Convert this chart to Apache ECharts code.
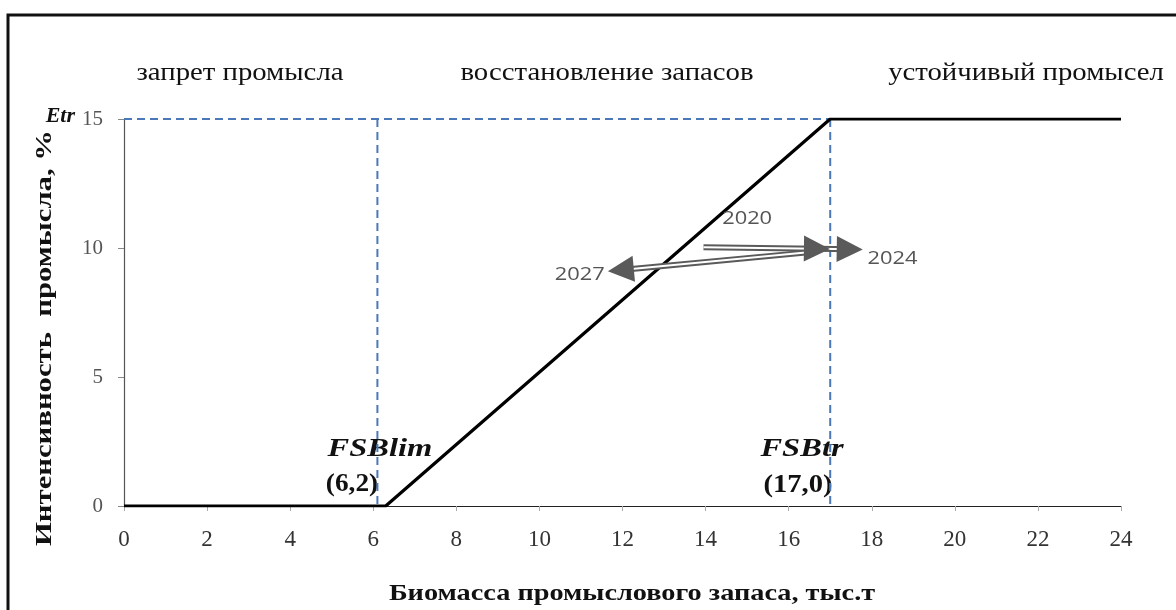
<!DOCTYPE html>
<html><head><meta charset="utf-8">
<script src="https://cdn.jsdelivr.net/npm/echarts@6/dist/echarts.min.js"></script>
<style>html,body{margin:0;padding:0;background:#fff}#c{width:1176px;height:610px}</style>
</head><body><div id="c"></div>
<script>
// ---- data ----
const xTickLabels = ['0','2','4','6','8','10','12','14','16','18','20','22','24'];
const yTickLabels = ['0','5','10','15'];
const zoneLabels = ['запрет промысла','восстановление запасов','устойчивый промысел'];
const ruleX = [0, 6.3, 17, 24];
const ruleY = [0, 0, 15, 15];
const etrLineX = [0, 17.5]; const etrY = 15;
const fsbLim = 6.1; const fsbTr = 17;
const refNames = ['FSBlim','FSBtr'];
const refValues = ['(6,2)','(17,0)'];
// trajectory segments (start x, start y, end x, end y)
const trajStartX = [13.95, 16.7, 16.6];
const trajStartY = [10.03, 9.97, 9.85];
const trajEndX   = [16.68, 17.47, 11.96];
const trajEndY   = [9.97, 9.95, 9.15];
const yearNames = ['2020','2024','2027'];
const yearX = [15.0, 18.5, 10.97];
const yearY = [11.15, 9.6, 8.95];

const chart = echarts.init(document.getElementById('c'));
const segs = trajStartX.map((x,i)=>({coords:[[x,trajStartY[i]],[trajEndX[i],trajEndY[i]]]}));
const serif = '"Liberation Serif", "DejaVu Serif", serif';
const dash = {color:'#4a78b8', width:2, type:[8,5]};
chart.setOption({
  animation:false,
  grid:{left:124, right:55, top:119, bottom:104},
  xAxis:{type:'value', min:0, max:24, interval:2,
    axisLine:{lineStyle:{color:'#222', width:1.2}},
    axisTick:{show:true, length:5, lineStyle:{color:'#aaa'}},
    splitLine:{show:false},
    axisLabel:{color:'#333', fontFamily:serif, fontSize:23, margin:22,
      formatter:(v)=>xTickLabels[v/2]}},
  yAxis:{type:'value', min:0, max:15, interval:5,
    axisLine:{show:true, lineStyle:{color:'#555', width:1.2}},
    axisTick:{show:true, length:6, lineStyle:{color:'#888'}},
    splitLine:{show:false},
    axisLabel:{color:'#555', fontFamily:serif, fontSize:21, margin:21,
      formatter:(v)=>yTickLabels[v/5]}},
  series:[
    {type:'line', data:[[etrLineX[0],etrY],[etrLineX[1],etrY]], symbol:'none', z:2, lineStyle:dash},
    {type:'line', data:[[fsbLim,etrY],[fsbLim,0]], symbol:'none', z:2, lineStyle:dash},
    {type:'line', data:[[fsbTr,etrY],[fsbTr,0]], symbol:'none', z:2, lineStyle:dash},
    {type:'line', data:ruleX.map((x,i)=>[x,ruleY[i]]), symbol:'none', z:3,
      lineStyle:{color:'#000', width:3.2}},
    {type:'lines', coordinateSystem:'cartesian2d', data:segs, z:4, symbol:['none','none'],
      lineStyle:{color:'#5a5a5a', width:6, opacity:1}},
    {type:'lines', coordinateSystem:'cartesian2d', data:segs, z:5, symbol:['none','none'],
      lineStyle:{color:'#fff', width:2, opacity:1}},
    {type:'lines', coordinateSystem:'cartesian2d', data:segs, z:6, symbol:['none','triangle'], symbolSize:[20,26],
      lineStyle:{color:'#5a5a5a', width:0.01, opacity:1}}
  ],
  graphic:[
    {type:'rect', shape:{x:8,y:15,width:1200,height:640}, style:{fill:'none', stroke:'#111', lineWidth:3}},
    {type:'text', x:240, y:73, scaleX:1.15, style:{text:zoneLabels[0], font:'25px '+serif, fill:'#111', align:'center', verticalAlign:'middle'}},
    {type:'text', x:607, y:73, scaleX:1.15, style:{text:zoneLabels[1], font:'25px '+serif, fill:'#111', align:'center', verticalAlign:'middle'}},
    {type:'text', x:1026, y:73, scaleX:1.15, style:{text:zoneLabels[2], font:'25px '+serif, fill:'#111', align:'center', verticalAlign:'middle'}},
    {type:'text', x:75, y:116, style:{text:'Etr', font:'italic bold 22px '+serif, fill:'#111', align:'right', verticalAlign:'middle'}},
    {type:'text', x:380, y:449, scaleX:1.25, style:{text:refNames[0], font:'italic bold 26px '+serif, fill:'#111', align:'center', verticalAlign:'middle'}},
    {type:'text', x:352, y:484, scaleX:1.05, style:{text:refValues[0], font:'bold 26px '+serif, fill:'#111', align:'center', verticalAlign:'middle'}},
    {type:'text', x:802, y:449, scaleX:1.25, style:{text:refNames[1], font:'italic bold 26px '+serif, fill:'#111', align:'center', verticalAlign:'middle'}},
    {type:'text', x:798, y:485, scaleX:1.1, style:{text:refValues[1], font:'bold 26px '+serif, fill:'#111', align:'center', verticalAlign:'middle'}},
    {type:'text', x:45, y:338, rotation:Math.PI/2, scaleX:1.28, style:{text:'Интенсивность  промысла, %', font:'bold 24px '+serif, fill:'#111', align:'center', verticalAlign:'middle'}},
    {type:'text', x:632, y:594, scaleX:1.23, style:{text:'Биомасса промыслового запаса, тыс.т', font:'bold 23px '+serif, fill:'#111', align:'center', verticalAlign:'middle'}}
  ]
});
// year labels placed through the chart's scales
const yearGraphics = yearNames.map((n,i)=>{
  const p = chart.convertToPixel({gridIndex:0}, [yearX[i], yearY[i]]);
  return {type:'text', x:p[0], y:p[1], scaleX:1.15, z:100,
    style:{text:n, font:'19px "Open Sans", sans-serif', fill:'#555', align:'center', verticalAlign:'middle'}};
});
const opt = chart.getOption();
chart.setOption({graphic: opt.graphic[0].elements.concat(yearGraphics)}, {replaceMerge:['graphic']});
</script></body></html>
